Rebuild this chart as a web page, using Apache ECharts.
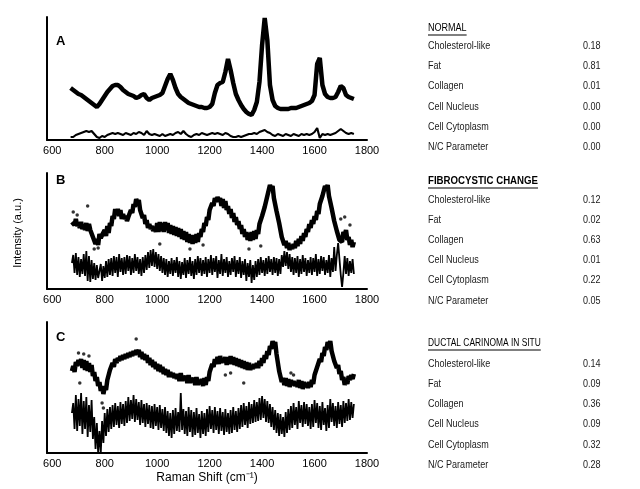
<!DOCTYPE html>
<html>
<head>
<meta charset="utf-8">
<script src="https://cdn.jsdelivr.net/npm/echarts@6/dist/echarts.min.js"></script>
<style>
html, body { margin: 0; padding: 0; background: #fff; }
#chart { width: 640px; height: 489px; }
</style>
</head>
<body>
<div id="chart"></div>
<script>
// Raman shift sampling of the traces (cm-1)
const shiftStartA = 670, shiftStepA = 10;
const shiftStartBC = 675, shiftStepBC = 5;
const tickValues = [600, 800, 1000, 1200, 1400, 1600, 1800];

// A: normal tissue spectrum + residual
const normalSpectrum = [
  52, 50, 48, 46, 45, 43, 41, 39, 37, 35, 33,
  36, 40, 44, 48, 51, 54, 55, 55, 53, 50,
  48, 46, 45, 44, 42, 43, 45, 46, 42, 40,
  42, 43, 44, 45, 47, 54, 61, 66, 60, 52,
  46, 43, 41, 39, 37, 36, 35, 34, 33, 33,
  32, 32, 33, 36, 47, 55, 57, 58, 68, 81,
  70, 57, 46, 40, 35, 31, 28, 26, 25, 30,
  38, 58, 95, 122, 100, 55, 40, 34, 32, 31,
  31, 31, 31, 32, 32, 32, 33, 34, 35, 36,
  37, 39, 45, 76, 82, 55, 46, 43, 42, 42,
  43, 48, 54, 52, 45, 43, 42, 41
];
const normalResidual = [
  3, 3, 5, 6, 7, 8, 9, 8, 9, 6, 3,
  2, 4, 3, 5, 6, 7, 6, 7, 6, 5,
  7, 6, 5, 7, 6, 8, 7, 5, 9, 6,
  5, 6, 5, 4, 6, 4, 5, 6, 5, 7,
  8, 6, 9, 6, 4, 3, 5, 6, 5, 7,
  6, 5, 6, 7, 6, 7, 6, 5, 7, 6,
  4, 3, 3, 4, 3, 4, 5, 6, 6, 7,
  6, 8, 9, 10, 8, 7, 5, 4, 6, 5,
  4, 6, 5, 4, 6, 5, 4, 6, 5, 6,
  5, 6, 8, 12, 2, 6, 5, 6, 5, 6,
  7, 9, 11, 9, 7, 6, 7, 6
];

// B: fibrocystic change, measured spectrum + residual
const fibroSpectrum = [
  67,
  69, 64, 70, 63, 66, 61, 67, 60, 64, 59, 66, 58, 65, 59, 60, 52, 53, 45, 50, 44,
  55, 51, 54, 53, 59, 53, 63, 56, 66, 63, 73, 70, 80, 75, 80, 73, 79, 70, 75, 70,
  73, 68, 72, 70, 79, 76, 85, 82, 90, 86, 89, 79, 81, 71, 74, 65, 69, 61, 65, 60,
  63, 58, 62, 57, 66, 57, 67, 58, 66, 57, 67, 59, 66, 56, 64, 55, 63, 54, 62, 53,
  61, 52, 60, 50, 58, 49, 57, 47, 55, 46, 54, 45, 54, 46, 55, 47, 56, 52, 60, 57,
  66, 63, 72, 69, 79, 77, 86, 83, 91, 87, 92, 88, 91, 83, 90, 81, 88, 79, 83, 75,
  80, 71, 76, 67, 72, 64, 68, 60, 64, 55, 60, 52, 57, 49, 56, 48, 57, 49, 58, 50,
  59, 55, 65, 63, 73, 71, 82, 81, 93, 93, 104, 100, 103, 91, 90, 78, 79, 66, 65, 52,
  53, 44, 48, 41, 46, 39, 44, 40, 45, 41, 48, 43, 50, 45, 53, 48, 56, 52, 60, 57,
  65, 61, 69, 65, 73, 69, 78, 75, 85, 83, 93, 92, 103, 100, 104, 93, 93, 81, 81, 68,
  69, 58, 60, 49, 50, 47, 57, 54, 59, 49, 52, 44, 49, 42, 47
];
const fibroResidual = [
  26,
  34, 16, 36, 14, 32, 12, 30, 15, 35, 13, 38, 8, 33, 7, 29, 10, 26, 9, 24, 11,
  10, 25, 8, 23, 11, 28, 12, 30, 14, 31, 13, 33, 16, 32, 12, 35, 17, 31, 14, 32,
  15, 34, 18, 33, 14, 31, 16, 35, 18, 32, 15, 30, 13, 32, 16, 34, 19, 37, 21, 39,
  23, 40, 22, 37, 20, 35, 18, 33, 16, 31, 14, 30, 12, 28, 15, 31, 13, 29, 16, 32,
  12, 28, 10, 27, 14, 31, 11, 29, 15, 32, 13, 28, 10, 30, 14, 33, 16, 31, 13, 29,
  15, 32, 12, 30, 16, 34, 14, 31, 17, 33, 11, 29, 15, 35, 13, 30, 16, 32, 12, 28,
  14, 31, 17, 33, 12, 29, 15, 32, 11, 28, 14, 30, 8, 26, 12, 29, 6, 24, 9, 28,
  12, 30, 14, 32, 16, 29, 13, 31, 15, 33, 17, 30, 14, 32, 16, 31, 13, 30, 15, 34,
  22, 38, 23, 37, 20, 35, 17, 32, 14, 31, 16, 33, 12, 30, 15, 34, 17, 31, 13, 29,
  16, 32, 14, 31, 17, 35, 13, 30, 15, 33, 18, 32, 14, 29, 16, 34, 12, 31, 17, 42,
  18, 34, 46, 30, 14, 2, 16, 33, 15, 31, 13, 28, 16, 30, 15
];
const fibroStrayPoints = [
  [680, 77], [695, 74], [735, 83], [760, 40], [775, 41], [1010, 45], [1125, 40],
  [1175, 44], [1350, 40], [1395, 43], [1700, 70], [1715, 72], [1735, 64]
];

// C: ductal carcinoma in situ, measured spectrum + residual
const dcisSpectrum = [
  82,
  87, 81, 91, 87, 93, 88, 94, 85, 93, 83, 92, 82, 90, 81, 88, 77, 81, 72, 76, 67,
  71, 62, 67, 59, 66, 63, 73, 72, 83, 81, 90, 86, 94, 90, 95, 92, 97, 93, 98, 94,
  99, 95, 100, 96, 101, 97, 102, 98, 103, 99, 103, 96, 101, 94, 99, 93, 98, 90, 95, 88,
  93, 86, 91, 84, 89, 82, 88, 81, 86, 79, 84, 78, 83, 76, 81, 76, 80, 75, 79, 74,
  79, 72, 80, 72, 77, 73, 77, 70, 78, 70, 75, 71, 75, 68, 76, 68, 73, 69, 74, 67,
  75, 68, 76, 72, 81, 79, 89, 86, 94, 89, 96, 89, 97, 90, 95, 91, 96, 88, 96, 89,
  97, 89, 96, 88, 95, 87, 94, 86, 93, 85, 92, 84, 91, 83, 90, 83, 88, 84, 89, 85,
  90, 85, 92, 87, 95, 90, 98, 94, 102, 98, 107, 104, 112, 107, 111, 99, 97, 82, 81, 71,
  75, 68, 75, 67, 74, 66, 73, 68, 72, 67, 71, 66, 73, 65, 72, 64, 71, 66, 70, 65,
  71, 66, 73, 69, 78, 76, 86, 84, 94, 91, 100, 97, 106, 103, 111, 107, 112, 102, 103, 92,
  94, 85, 88, 79, 82, 73, 76, 68, 73, 69, 77, 73, 78, 74, 79
];
const dcisResidual = [
  40,
  50, 24, 58, 22, 54, 27, 60, 19, 52, 24, 56, 16, 48, 21, 53, 14, 36, 4, 30, 0,
  22, 0, 32, 10, 40, 17, 44, 21, 46, 24, 48, 26, 50, 28, 47, 25, 51, 29, 49, 27,
  52, 30, 56, 32, 53, 34, 58, 31, 54, 33, 51, 28, 53, 30, 49, 26, 50, 29, 48, 25,
  47, 24, 49, 27, 46, 23, 48, 25, 44, 22, 46, 20, 42, 17, 40, 15, 43, 19, 45, 22,
  41, 21, 60, 23, 44, 19, 42, 17, 46, 21, 43, 16, 41, 18, 45, 20, 39, 15, 42, 19,
  40, 17, 44, 21, 47, 24, 43, 20, 46, 23, 42, 19, 45, 22, 41, 18, 44, 21, 40, 19,
  43, 20, 46, 23, 42, 21, 45, 24, 48, 26, 50, 28, 47, 25, 51, 29, 49, 30, 53, 31,
  51, 32, 55, 33, 57, 35, 54, 31, 52, 30, 49, 26, 46, 23, 43, 20, 40, 17, 39, 19,
  36, 16, 41, 20, 44, 23, 47, 25, 50, 28, 46, 24, 52, 30, 48, 26, 51, 29, 49, 27,
  46, 24, 49, 26, 53, 30, 50, 25, 47, 23, 51, 28, 45, 22, 48, 25, 54, 31, 50, 27,
  47, 25, 51, 29, 48, 26, 52, 30, 50, 32, 54, 33, 51, 35, 49
];
const dcisStrayPoints = [
  [700, 100], [720, 99], [740, 97], [705, 70], [790, 50], [795, 45], [920, 114],
  [1260, 78], [1280, 80], [1330, 70], [1510, 80], [1520, 78]
];

// fit table
const components = ['Cholesterol-like', 'Fat', 'Collagen', 'Cell Nucleus', 'Cell Cytoplasm', 'N/C Parameter'];
const groupTitles = ['NORMAL', 'FIBROCYSTIC CHANGE', 'DUCTAL CARINOMA IN SITU'];
const normalFit = ['0.18', '0.81', '0.01', '0.00', '0.00', '0.00'];
const fibroFit = ['0.12', '0.02', '0.63', '0.01', '0.22', '0.05'];
const dcisFit = ['0.14', '0.09', '0.36', '0.09', '0.32', '0.28'];

function toPairs(start, step, vals) {
  return vals.map((v, i) => [start + i * step, v]);
}

const FONT = 'Liberation Sans, Arial, sans-serif';
const chart = echarts.init(document.getElementById('chart'), null, { renderer: 'canvas' });

const panels = [
  { top: 17, height: 123 },
  { top: 173, height: 116 },
  { top: 322, height: 131 }
];

const grids = panels.map(p => ({ left: 47, top: p.top, width: 320, height: p.height }));
const xAxes = panels.map((p, i) => ({
  gridIndex: i, type: 'value', min: 580, max: 1800,
  axisLine: { lineStyle: { color: '#000', width: 2 } },
  axisTick: { show: false },
  splitLine: { show: false },
  axisLabel: { customValues: tickValues, formatter: v => String(v),
    color: '#000', fontSize: 11, fontFamily: FONT, margin: 5 },
  name: i === 2 ? 'Raman Shift (cm\u207B\u00B9)' : '',
  nameLocation: 'middle', nameGap: 19,
  nameTextStyle: { color: '#000', fontSize: 12, fontFamily: FONT }
}));
const yAxes = panels.map((p, i) => ({
  gridIndex: i, type: 'value', min: 0, max: p.height,
  axisLine: { show: true, lineStyle: { color: '#000', width: 2 } },
  axisTick: { show: false }, axisLabel: { show: false }, splitLine: { show: false }
}));

function traceSeries(idx, data, width) {
  return {
    type: 'line', xAxisIndex: idx, yAxisIndex: idx, data: data,
    showSymbol: false, silent: true,
    lineStyle: { color: '#000', width: width }
  };
}
function strays(idx, data) {
  return {
    type: 'scatter', xAxisIndex: idx, yAxisIndex: idx, data: data,
    symbolSize: 3.5, itemStyle: { color: '#000' }, silent: true
  };
}

const series = [
  traceSeries(0, toPairs(shiftStartA, shiftStepA, normalSpectrum), 4.5),
  traceSeries(0, toPairs(shiftStartA, shiftStepA, normalResidual), 2.2),
  traceSeries(1, toPairs(shiftStartBC, shiftStepBC, fibroSpectrum), 4.5),
  strays(1, fibroStrayPoints),
  traceSeries(1, toPairs(shiftStartBC, shiftStepBC, fibroResidual), 1.8),
  traceSeries(2, toPairs(shiftStartBC, shiftStepBC, dcisSpectrum), 4.5),
  strays(2, dcisStrayPoints),
  traceSeries(2, toPairs(shiftStartBC, shiftStepBC, dcisResidual), 1.8)
];

// right-hand table as text (slightly condensed, like the scanned original)
const measure = document.createElement('canvas').getContext('2d');
const graphic = [];
const tableX = 428, valueX = 583;
const headerY = [28, 181, 343];
const headerFont = ['10.5px', 'bold 10.5px', '10.5px'];
const headerScale = [0.86, 0.92, 0.8];
const rowFont = '10.5px ' + FONT, rowScale = 0.86;
const rowY = [
  [46, 66, 86, 107, 127, 147],
  [200, 220, 240, 260, 280, 301],
  [364, 384, 404, 424, 445, 465]
];
const fits = [normalFit, fibroFit, dcisFit];
groupTitles.forEach((title, g) => {
  const font = headerFont[g] + ' ' + FONT;
  measure.font = font;
  const w = measure.measureText(title).width * headerScale[g];
  graphic.push({ type: 'text', x: tableX, y: headerY[g], scaleX: headerScale[g],
    style: { text: title, fill: '#000', font: font, verticalAlign: 'middle' } });
  graphic.push({ type: 'line', shape: { x1: tableX, y1: headerY[g] + 7, x2: tableX + w, y2: headerY[g] + 7 },
    style: { stroke: '#000', lineWidth: 1.2 } });
  components.forEach((name, r) => {
    graphic.push({ type: 'text', x: tableX, y: rowY[g][r], scaleX: rowScale,
      style: { text: name, fill: '#1a1a1a', font: rowFont, verticalAlign: 'middle' } });
    graphic.push({ type: 'text', x: valueX, y: rowY[g][r], scaleX: rowScale,
      style: { text: fits[g][r], fill: '#1a1a1a', font: rowFont, verticalAlign: 'middle' } });
  });
});
['A', 'B', 'C'].forEach((t, i) => {
  graphic.push({ type: 'text', left: 56, top: [35, 174, 331][i],
    style: { text: t, fill: '#000', font: 'bold 13px ' + FONT } });
});
graphic.push({ type: 'text', x: 18, y: 233, rotation: Math.PI / 2,
  style: { text: 'Intensity (a.u.)', fill: '#000', font: '11px ' + FONT, align: 'center', verticalAlign: 'middle' } });

chart.setOption({
  animation: false,
  backgroundColor: '#fff',
  grid: grids,
  xAxis: xAxes,
  yAxis: yAxes,
  series: series,
  graphic: graphic
});
</script>
</body>
</html>
